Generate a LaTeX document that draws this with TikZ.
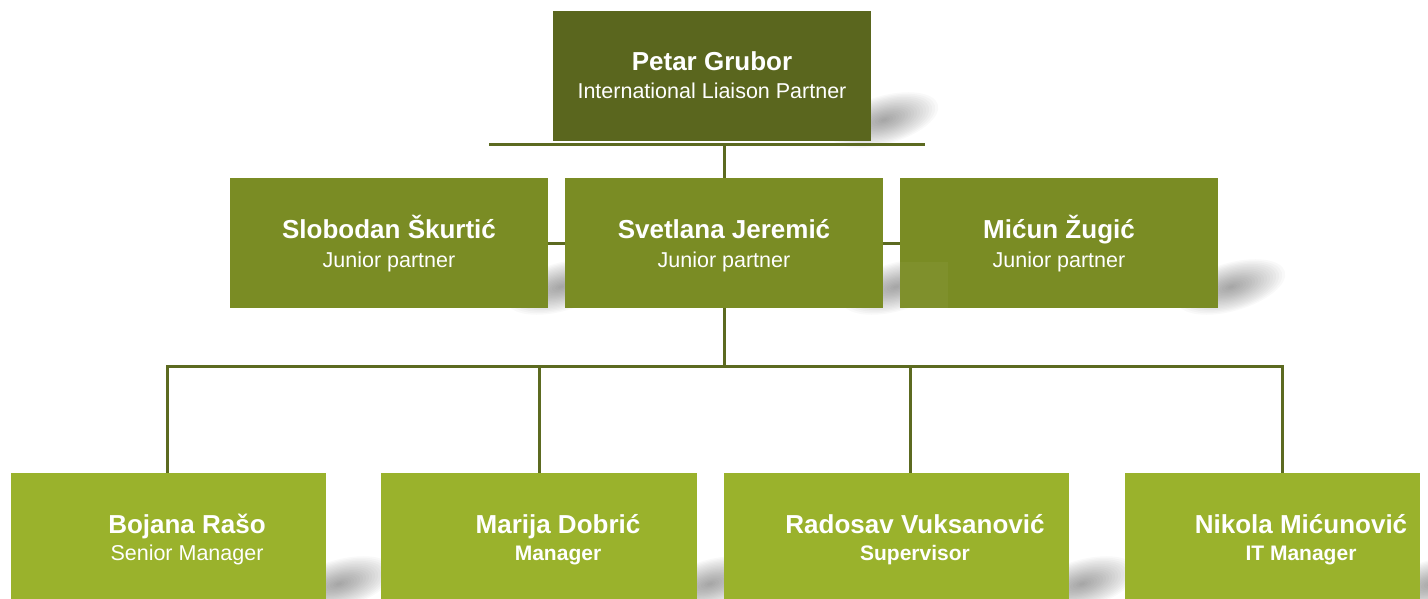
\documentclass[tikz,border=0pt]{standalone}
\usepackage{fontspec}
\setmainfont{Liberation Sans}
\definecolor{topc}{RGB}{90,102,30}
\definecolor{midc}{RGB}{122,140,36}
\definecolor{botc}{RGB}{154,178,44}
\definecolor{linec}{RGB}{92,106,32}
\tikzset{
  box/.style={rectangle, inner sep=0pt, minimum height=130pt},
  nametxt/.style={anchor=base, text=white, inner sep=0pt, font=\fontsize{26}{30}\selectfont\bfseries},
  subtxt/.style={anchor=base, text=white, inner sep=0pt, font=\fontsize{21.5}{26}\selectfont},
  subbold/.style={subtxt, font=\fontsize{21}{26}\selectfont\bfseries},
  conn/.style={draw=linec, line width=3pt},
  shadowlayer/.style={fill=black, fill opacity=0.022}
}
\newcommand{\boxshadow}[2]{%
  \begin{scope}[shift={(#1,#2)}, rotate=16]
    \foreach \k in {1,...,18}{
      \fill[shadowlayer] (0,0) ellipse ({56*\k/18} and {24*\k/18});
    }
  \end{scope}}
\begin{document}
\begin{tikzpicture}[x=1pt,y=-1pt]
\useasboundingbox (0,0) rectangle (1428,599);
% shadows
\boxshadow{884}{120}
\boxshadow{561}{287}
\boxshadow{896}{287}
\boxshadow{1231}{287}
\boxshadow{339}{584}
\boxshadow{710}{584}
\boxshadow{1082}{584}
\boxshadow{1433}{584}
% boxes
\node[box, fill=topc, minimum width=318pt] (pg) at (712,76) {};
\node[box, fill=midc, minimum width=318pt] (sl) at (389,243) {};
\node[box, fill=midc, minimum width=318pt] (sv) at (724,243) {};
\node[box, fill=midc, minimum width=318pt] (mz) at (1059,243) {};
\fill[white, opacity=0.04] (900,262) rectangle (948,308);
\node[box, fill=botc, minimum width=315pt] (b1) at (168.5,538) {};
\node[box, fill=botc, minimum width=316pt] (b2) at (539,538) {};
\node[box, fill=botc, minimum width=345pt] (b3) at (896.5,538) {};
\node[box, fill=botc, minimum width=295pt] (b4) at (1272.5,538) {};
% texts
\node[nametxt, at=(pg.center), yshift=5pt] (pgn) {Petar Grubor};
\node[subtxt, at=(pg.center), yshift=-23pt] (pgt) {International Liaison Partner};
\node[nametxt, at=(sl.center), yshift=5pt] (sln) {Slobodan Škurtić};
\node[subtxt, at=(sl.center), yshift=-24pt] (slt) {Junior partner};
\node[nametxt, at=(sv.center), yshift=5pt] (svn) {Svetlana Jeremić};
\node[subtxt, at=(sv.center), yshift=-24pt] (svt) {Junior partner};
\node[nametxt, at=(mz.center), yshift=5pt] (mzn) {Mićun Žugić};
\node[subtxt, at=(mz.center), yshift=-24pt] (mzt) {Junior partner};
\node[nametxt, at=(b1.center), xshift=18.5pt, yshift=5pt] (b1n) {Bojana Rašo};
\node[subtxt, at=(b1.center), xshift=18.5pt, yshift=-22pt] (b1t) {Senior Manager};
\node[nametxt, at=(b2.center), xshift=19pt, yshift=5pt] (b2n) {Marija Dobrić};
\node[subbold, at=(b2.center), xshift=19pt, yshift=-22pt] (b2t) {Manager};
\node[nametxt, at=(b3.center), xshift=18.5pt, yshift=5pt] (b3n) {Radosav Vuksanović};
\node[subbold, at=(b3.center), xshift=18.5pt, yshift=-22pt] (b3t) {Supervisor};
\node[nametxt, at=(b4.center), xshift=28.5pt, yshift=5pt] (b4n) {Nikola Mićunović};
\node[subbold, at=(b4.center), xshift=28.5pt, yshift=-22pt] (b4t) {IT Manager};
% connectors
\coordinate (tl) at (489,145);
\coordinate (tr) at (925,145);
\draw[conn] (tl) -- (tr);
\draw[conn] (tl -| sv.north) -- (sv.north);
\draw[conn] (sl.east) -- (sv.west);
\draw[conn] (sv.east) -- (mz.west);
\coordinate (bl) at (167,366);
\coordinate (br) at (1282,366);
\coordinate (j2) at (539,366);
\coordinate (j3) at (910,366);
\draw[conn] (sv.south) -- (sv.south |- bl);
\draw[conn, line cap=rect] (bl) -- (br);
\draw[conn] (bl) -- (bl |- b1.north);
\draw[conn] (j2) -- (j2 |- b2.north);
\draw[conn] (j3) -- (j3 |- b3.north);
\draw[conn] (br) -- (br |- b4.north);
\end{tikzpicture}
\end{document}
